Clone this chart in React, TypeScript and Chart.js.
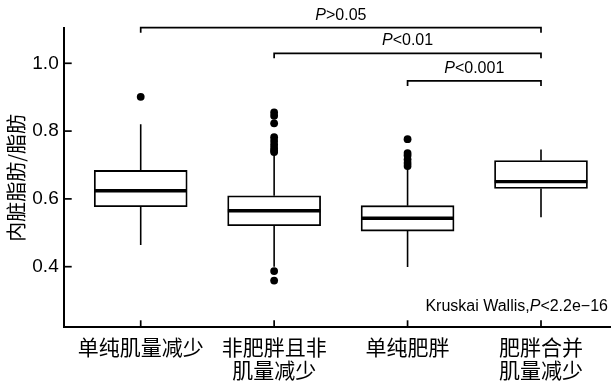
import React, { useEffect, useRef } from 'react';
import { Chart, registerables } from 'chart.js';

Chart.register(...registerables);

// ---- data ----
const categories: string[][] = [['单纯肌量减少'], ['非肥胖且非', '肌量减少'], ['单纯肥胖'], ['肥胖合并', '肌量减少']];
const positions = [1, 2, 3, 4];
const q1 = [0.577, 0.521, 0.505, 0.631];
const medians = [0.624, 0.565, 0.543, 0.651];
const q3 = [0.684, 0.609, 0.58, 0.713];
const whiskerLow = [0.464, 0.4, 0.399, 0.546];
const whiskerHigh = [0.82, 0.733, 0.688, 0.746];
const outliers: number[][] = [
  [0.901],
  [0.855, 0.845, 0.823, 0.782, 0.771, 0.76, 0.75, 0.743, 0.738, 0.387, 0.359],
  [0.776, 0.735, 0.728, 0.716, 0.706, 0.697],
  [],
];
const yTicks = [0.4, 0.6, 0.8, 1.0];
const yTitle = '内脏脂肪/脂肪';
const bracketFrom = [1, 2, 3];
const bracketTo = [4, 4, 4];
const bracketY = [1.105, 1.0295, 0.948];
const bracketText = ['>0.05', '<0.01', '<0.001'];
const testPrefix = 'Kruskai Wallis,';
const testSuffix = '<2.2e\u221216';
const testY = 0.27;

const LATIN = "'Liberation Sans', Arial, sans-serif";
const CJK = "'Noto Sans CJK SC', 'Noto Sans', sans-serif";

const annotationPlugin = {
  id: 'annot',
  afterDraw(chart: any) {
    const { ctx, chartArea, scales } = chart;
    const xs = scales.x;
    const ys = scales.y;
    ctx.save();
    ctx.strokeStyle = '#000';
    ctx.fillStyle = '#000';
    ctx.lineWidth = 1.7;
    yTicks.forEach((v) => {
      const py = ys.getPixelForValue(v);
      ctx.beginPath();
      ctx.moveTo(chartArea.left, py);
      ctx.lineTo(chartArea.left + 8, py);
      ctx.stroke();
    });
    positions.forEach((p) => {
      const px = xs.getPixelForValue(p);
      ctx.beginPath();
      ctx.moveTo(px, chartArea.bottom);
      ctx.lineTo(px, chartArea.bottom - 7);
      ctx.stroke();
    });
    const drawP = (cx: number, baseline: number, rest: string) => {
      ctx.font = `italic 16px ${LATIN}`;
      const wP = ctx.measureText('P').width;
      ctx.font = `16px ${LATIN}`;
      const wR = ctx.measureText(rest).width;
      const start = cx - (wP + wR) / 2;
      ctx.textAlign = 'left';
      ctx.textBaseline = 'alphabetic';
      ctx.font = `italic 16px ${LATIN}`;
      ctx.fillText('P', start, baseline);
      ctx.font = `16px ${LATIN}`;
      ctx.fillText(rest, start + wP, baseline);
    };
    bracketFrom.forEach((f, i) => {
      const x1 = xs.getPixelForValue(f);
      const x2 = xs.getPixelForValue(bracketTo[i]);
      const py = ys.getPixelForValue(bracketY[i]);
      ctx.lineWidth = 1.7;
      ctx.beginPath();
      ctx.moveTo(x1, py + 5);
      ctx.lineTo(x1, py);
      ctx.lineTo(x2, py);
      ctx.lineTo(x2, py + 5);
      ctx.stroke();
      drawP((x1 + x2) / 2, py - 8, bracketText[i]);
    });
    ctx.font = `16px ${LATIN}`;
    const wSuffix = ctx.measureText(testSuffix).width;
    ctx.font = `italic 16px ${LATIN}`;
    const wP = ctx.measureText('P').width;
    const right = chartArea.right - 3;
    const by = ys.getPixelForValue(testY);
    ctx.textAlign = 'right';
    ctx.textBaseline = 'alphabetic';
    ctx.font = `16px ${LATIN}`;
    ctx.fillText(testSuffix, right, by);
    ctx.font = `italic 16px ${LATIN}`;
    ctx.fillText('P', right - wSuffix, by);
    ctx.font = `16px ${LATIN}`;
    ctx.fillText(testPrefix, right - wSuffix - wP, by);
    ctx.restore();
  },
};

const zeroPad = (s: any) => {
  s.paddingLeft = 0;
  s.paddingRight = 0;
  s.paddingTop = 0;
  s.paddingBottom = 0;
};

export default function App() {
  const ref = useRef<HTMLCanvasElement | null>(null);
  useEffect(() => {
    if (!ref.current) return;
    const whiskerData: any[] = [];
    positions.forEach((p, i) => {
      whiskerData.push({ x: p, y: q3[i] }, { x: p, y: whiskerHigh[i] }, { x: p, y: null });
      whiskerData.push({ x: p, y: q1[i] }, { x: p, y: whiskerLow[i] }, { x: p, y: null });
    });
    const outlierData: any[] = [];
    outliers.forEach((arr, i) => arr.forEach((v) => outlierData.push({ x: positions[i], y: v })));

    const chart = new Chart(ref.current, {
      type: 'bar',
      data: {
        datasets: [
          {
            type: 'line',
            data: whiskerData,
            borderColor: '#000',
            borderWidth: 1.6,
            pointRadius: 0,
            spanGaps: false,
            fill: false,
            order: 4,
          } as any,
          {
            type: 'bar',
            data: positions.map((p, i) => ({ x: p, y: [q1[i], q3[i]] })),
            backgroundColor: '#fff',
            borderColor: '#000',
            borderWidth: 1.8,
            borderSkipped: false,
            barThickness: 93,
            grouped: false,
            order: 3,
          } as any,
          {
            type: 'scatter',
            data: positions.map((p, i) => ({ x: p, y: medians[i] })),
            pointStyle: 'line',
            pointRadius: 46.3,
            pointBorderWidth: 3.4,
            borderColor: '#000',
            backgroundColor: '#000',
            order: 2,
          } as any,
          {
            type: 'scatter',
            data: outlierData,
            pointRadius: 3.9,
            pointBorderWidth: 0,
            backgroundColor: '#000',
            borderColor: '#000',
            order: 1,
          } as any,
        ],
      },
      options: {
        animation: false,
        responsive: false,
        events: [],
        layout: { autoPadding: false, padding: { top: 28.3, left: 0, right: 0, bottom: 0 } },
        plugins: { legend: { display: false }, tooltip: { enabled: false } },
        scales: {
          x: {
            type: 'linear',
            min: 0.4229,
            max: 4.5246,
            offset: false,
            grid: { display: false, drawTicks: false },
            border: { display: true, color: '#000', width: 2 },
            afterBuildTicks: (s: any) => {
              s.ticks = positions.map((v) => ({ value: v }));
            },
            afterFit: (s: any) => {
              s.height = 57.7;
              zeroPad(s);
            },
            ticks: {
              autoSkip: false,
              maxRotation: 0,
              color: '#000',
              padding: 8,
              font: { family: CJK, size: 21, lineHeight: 1.1 },
              callback: (v: any) => {
                const i = positions.indexOf(Number(v));
                return i >= 0 ? categories[i] : '';
              },
            },
          },
          y: {
            type: 'linear',
            min: 0.2212,
            max: 1.1032,
            grid: { display: false, drawTicks: false },
            border: { display: true, color: '#000', width: 2 },
            afterBuildTicks: (s: any) => {
              s.ticks = yTicks.map((v) => ({ value: v }));
            },
            afterFit: (s: any) => {
              s.width = 63.7;
              zeroPad(s);
            },
            title: {
              display: true,
              text: yTitle,
              color: '#000',
              font: { family: CJK, size: 20, lineHeight: 1.2 },
              padding: { top: 4, bottom: 0 },
            },
            ticks: {
              color: '#000',
              padding: 5,
              font: { family: LATIN, size: 19 },
              callback: (v: any) => Number(v).toFixed(1),
            },
          },
        },
      } as any,
      plugins: [annotationPlugin],
    });
    return () => chart.destroy();
  }, []);
  return (
    <div style={{ position: 'absolute', left: 0, top: 0, width: 611, height: 385, background: '#fff' }}>
      <canvas ref={ref} width={611} height={385} style={{ display: 'block' }} />
    </div>
  );
}
